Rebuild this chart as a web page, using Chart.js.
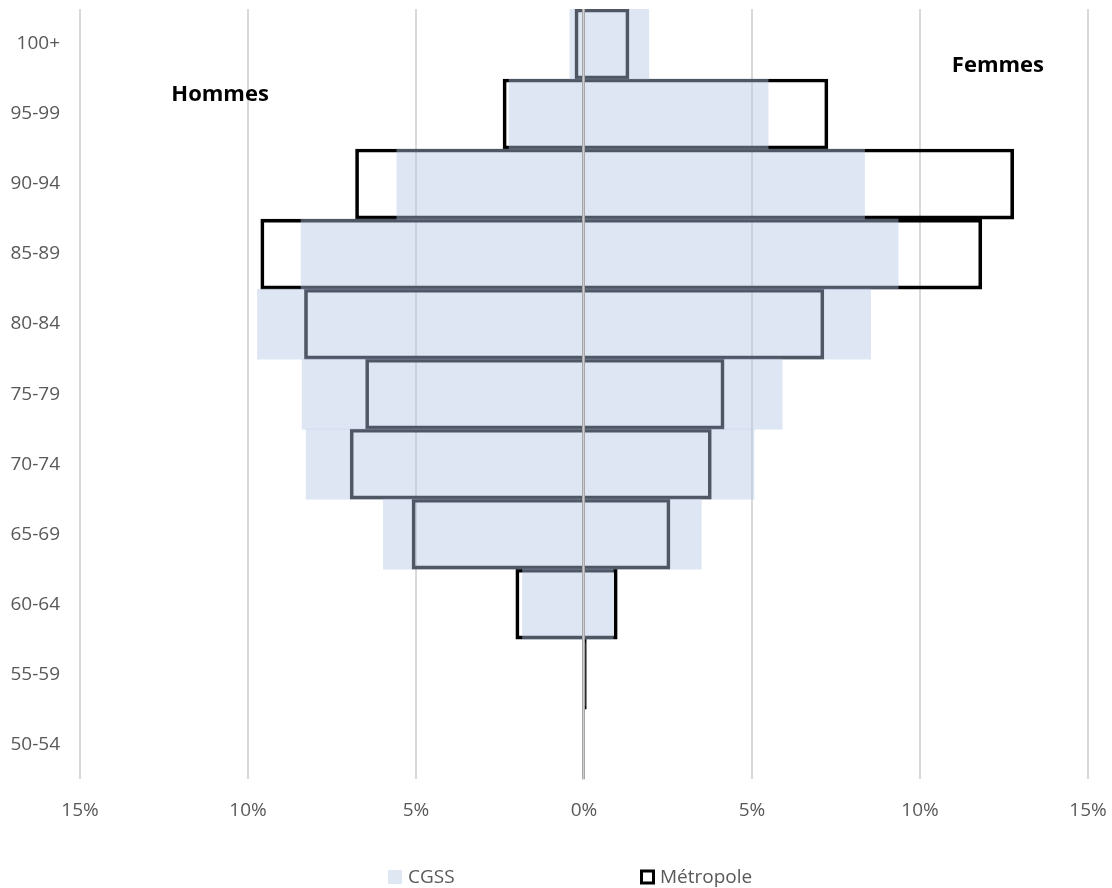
<!DOCTYPE html>
<html>
<head>
<meta charset="utf-8">
<script src="https://cdn.jsdelivr.net/npm/chart.js@4.4.1/dist/chart.umd.min.js"></script>
<style>
  html, body { margin: 0; padding: 0; background: #fff; }
  #wrap { width: 1112px; height: 888px; }
</style>
</head>
<body>
<div id="wrap"><canvas id="chart" width="1112" height="888"></canvas></div>
<script>
// age groups, top to bottom
const ageGroups = ['100+', '95-99', '90-94', '85-89', '80-84', '75-79', '70-74', '65-69', '60-64', '55-59', '50-54'];

// share of population in %, men on the left (negative)
const cgssHommes = [-0.42, -2.23, -5.57, -8.42, -9.72, -8.39, -8.27, -5.97, -1.83, -0.01, 0];
const cgssFemmes = [1.93, 5.48, 8.35, 9.35, 8.53, 5.90, 5.06, 3.49, 0.87, 0.01, 0];
const metroHommes = [-0.27, -2.41, -6.80, -9.62, -8.32, -6.50, -6.96, -5.12, -2.03, -0.02, -0.01];
const metroFemmes = [1.34, 7.26, 12.79, 11.84, 7.14, 4.17, 3.79, 2.56, 0.99, 0.07, 0.01];

const xTicks = [-15, -10, -5, 0, 5, 10, 15];

const FONT = '"Open Sans", "Noto Sans", sans-serif';
const TEXT_GREY = '#595959';

// floating bars: one bar per age group from men's edge to women's edge
const cgssBars = ageGroups.map((g, i) => [cgssHommes[i], cgssFemmes[i]]);
const metroBars = ageGroups.map((g, i) => [metroHommes[i], metroFemmes[i]]);

// zero line, Hommes / Femmes titles and the legend at the bottom
const extras = {
  id: 'extras',
  afterDatasetsDraw(chart) {
    const ctx = chart.ctx;
    const area = chart.chartArea;
    const x = chart.scales.x;
    const y = chart.scales.y;
    const x0 = Math.round(x.getPixelForValue(0)) - 0.5;

    ctx.save();
    ctx.strokeStyle = '#a6a6a6';
    ctx.lineWidth = 3;
    ctx.beginPath();
    ctx.moveTo(x0, area.top);
    ctx.lineTo(x0, area.bottom);
    ctx.stroke();
    ctx.strokeStyle = '#cfcfcf';
    ctx.lineWidth = 1;
    ctx.beginPath();
    ctx.moveTo(x0, area.top);
    ctx.lineTo(x0, area.bottom);
    ctx.stroke();

    ctx.fillStyle = '#000';
    ctx.font = 'bold 22px ' + FONT;
    ctx.textAlign = 'center';
    ctx.textBaseline = 'middle';
    const rowH = y.getPixelForValue(1) - y.getPixelForValue(0);
    ctx.fillText('Hommes', x.getPixelForValue(-10.83), y.getPixelForValue(1) - rowH * 0.27);
    ctx.fillText('Femmes', x.getPixelForValue(12.32), y.getPixelForValue(0) + rowH * 0.31);

    // legend
    const ds = chart.data.datasets;
    ctx.font = '19px ' + FONT;
    ctx.textAlign = 'left';
    const ly = 877;
    const items = [
      { left: 388, ds: ds[0] },
      { left: 640, ds: ds[1] }
    ];
    items.forEach(it => {
      if (it.ds.borderWidth) {
        ctx.strokeStyle = it.ds.borderColor;
        ctx.lineWidth = 3;
        ctx.strokeRect(it.left + 1.5, ly - 6, 12, 12);
      } else {
        ctx.fillStyle = '#dfe7f3';
        ctx.fillRect(it.left, ly - 7, 14, 14);
      }
      ctx.fillStyle = TEXT_GREY;
      ctx.fillText(it.ds.label, it.left + 20, ly + 1);
    });
    ctx.restore();
  }
};

new Chart(document.getElementById('chart').getContext('2d'), {
  type: 'bar',
  data: {
    labels: ageGroups,
    datasets: [
      {
        label: 'CGSS',
        data: cgssBars,
        backgroundColor: 'rgba(180, 199, 231, 0.44)',
        borderWidth: 0,
        order: 0
      },
      {
        label: 'Métropole',
        data: metroBars,
        backgroundColor: 'rgba(0,0,0,0)',
        borderColor: '#000',
        borderWidth: 3,
        borderSkipped: false,
        order: 1
      }
    ]
  },
  options: {
    indexAxis: 'y',
    responsive: false,
    animation: false,
    grouped: false,
    categoryPercentage: 1,
    barPercentage: 1,
    layout: { padding: { top: 9, right: 24, bottom: 46, left: 0 } },
    plugins: {
      legend: { display: false },
      tooltip: { enabled: false }
    },
    scales: {
      x: {
        min: -15,
        max: 15,
        afterBuildTicks: (s) => { s.ticks = xTicks.map(v => ({ value: v })); },
        afterFit: (s) => { s.paddingLeft = 0; s.paddingRight = 0; },
        grid: { color: '#d9d9d9', lineWidth: 2, drawTicks: false },
        border: { display: false },
        ticks: {
          padding: 20,
          color: TEXT_GREY,
          font: { family: FONT, size: 19 },
          callback: (v) => Math.abs(v) + '%'
        }
      },
      y: {
        afterFit: (s) => { s.width = 80; s.paddingTop = 0; s.paddingBottom = 0; },
        grid: { display: false, drawTicks: false },
        border: { display: false },
        ticks: {
          padding: 20,
          color: TEXT_GREY,
          font: { family: FONT, size: 19 }
        }
      }
    }
  },
  plugins: [extras]
});
</script>
</body>
</html>
